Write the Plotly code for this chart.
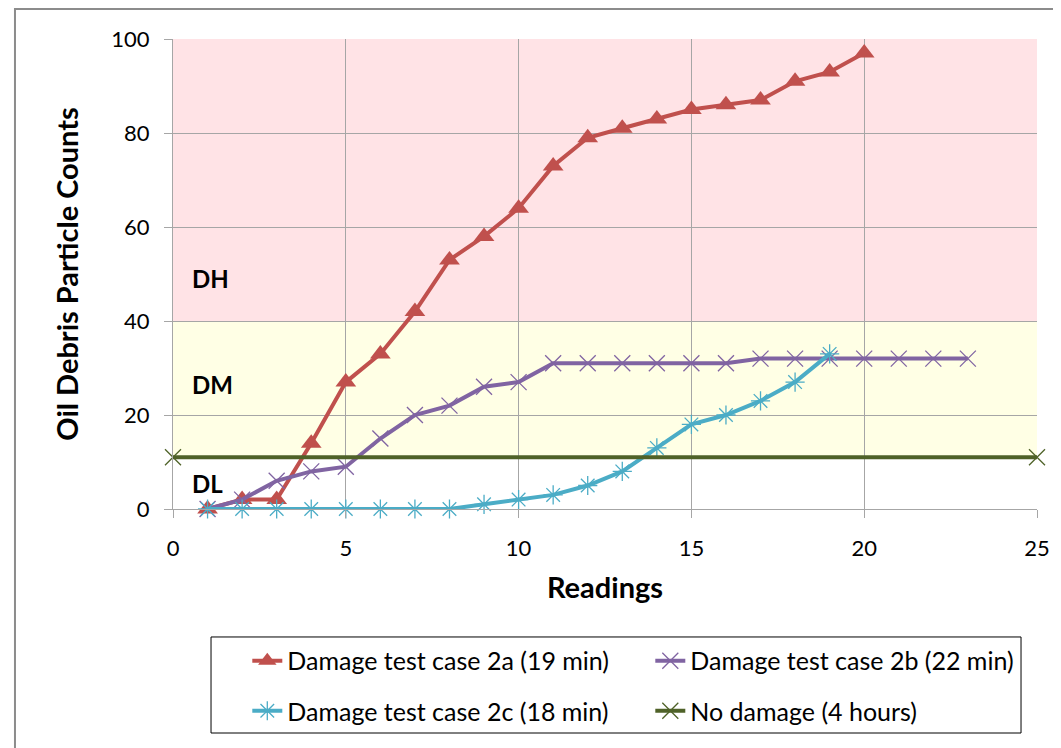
import plotly.graph_objects as go

# readings (x) per series
readings_2a = list(range(1, 21))
readings_2b = list(range(1, 24))
readings_2c = list(range(1, 20))
readings_none = [0, 25]

# particle counts
counts_2a = [0, 2, 2, 14, 27, 33, 42, 53, 58, 64, 73, 79, 81, 83, 85, 86, 87, 91, 93, 97]
counts_2b = [0, 2, 6, 8, 9, 15, 20, 22, 26, 27, 31, 31, 31, 31, 31, 31, 32, 32, 32, 32, 32, 32, 32]
counts_2c = [0, 0, 0, 0, 0, 0, 0, 0, 1, 2, 3, 5, 8, 13, 18, 20, 23, 27, 33]
counts_none = [11, 11]

names = ["Damage test case 2a (19 min)", "Damage test case 2b (22 min)",
         "Damage test case 2c (18 min)", "No damage (4 hours)"]

# damage zones
zone_low = 11
zone_mid = 40
zone_top = 100
zone_labels = ["DL", "DM", "DH"]
zone_label_y = [5.5, 26.5, 49]

FONT = "Lato, Liberation Sans, Arial"

fig = go.Figure()

fig.add_trace(go.Scatter(
    x=readings_2a, y=counts_2a, name=names[0], mode="lines+markers",
    line=dict(color="#C0504D", width=4),
    marker=dict(symbol="triangle-up", size=18, color="#C0504D"),
    cliponaxis=False, legend="legend",
))
fig.add_trace(go.Scatter(
    x=readings_2b, y=counts_2b, name=names[1], mode="lines+markers",
    line=dict(color="#8064A2", width=4),
    marker=dict(symbol="x-thin-open", size=16, line=dict(color="#B7A6CB", width=1.3)),
    cliponaxis=False, legend="legend",
))
fig.add_trace(go.Scatter(
    x=readings_2c, y=counts_2c, name=names[2], mode="lines+markers",
    line=dict(color="#4BACC6", width=4),
    marker=dict(symbol="asterisk-open", size=16, line=dict(color="#5FC0D8", width=1.3)),
    cliponaxis=False, legend="legend2",
))
fig.add_trace(go.Scatter(
    x=readings_none, y=counts_none, name=names[3], mode="lines+markers",
    line=dict(color="#4F6228", width=4),
    marker=dict(symbol="x-thin-open", size=16, line=dict(color="#8A9A66", width=1.3)),
    cliponaxis=False, legend="legend2",
))

# zone shading
fig.add_hrect(y0=zone_low, y1=zone_mid, fillcolor="#FFFFE5", line_width=0, layer="below")
fig.add_hrect(y0=zone_mid, y1=zone_top, fillcolor="#FFE3E6", line_width=0, layer="below")

for lab, yy in zip(zone_labels, zone_label_y):
    fig.add_annotation(x=0.5, y=yy, text="<b>%s</b>" % lab, showarrow=False,
                       xanchor="left", font=dict(size=24, color="#000", family=FONT))

# outer chart frame and legend box
fig.add_shape(type="rect", xref="paper", yref="paper", x0=-0.1829, x1=1.0208,
              y0=-0.53, y1=1.064, line=dict(color="#8C8C8C", width=2), layer="below")
fig.add_shape(type="rect", xref="paper", yref="paper", x0=0.044, x1=0.9815,
              y0=-0.4766, y1=-0.2723, line=dict(color="#000", width=1))

leg_common = dict(orientation="h", xanchor="left", yanchor="middle",
                  font=dict(size=25, family=FONT, color="#000"),
                  bgcolor="rgba(0,0,0,0)", entrywidth=358, itemwidth=30,
                  tracegroupgap=0)
# page body has an 8px margin, so the figure is sized and offset to compensate
fig.update_layout(
    width=1053, height=740,
    margin=dict(l=165, r=24, t=31, b=239, autoexpand=False),
    paper_bgcolor="white", plot_bgcolor="white",
    font=dict(family=FONT, color="#000"),
    legend=dict(x=0.086, y=-0.3234, **leg_common),
    legend2=dict(x=0.086, y=-0.4298, **leg_common),
    xaxis=dict(range=[0, 25], dtick=5, showgrid=True, gridcolor="#A6A6A6", gridwidth=1,
               showline=True, linecolor="#A6A6A6", ticks="outside", ticklen=8,
               tickcolor="#A6A6A6", zeroline=False, ticklabelstandoff=12,
               tickfont=dict(size=22, family=FONT, color="#000"),
               title=dict(text="<b>Readings</b>", font=dict(size=29, family=FONT), standoff=17)),
    yaxis=dict(range=[0, 100], dtick=20, showgrid=True, gridcolor="#A6A6A6", gridwidth=1,
               showline=True, linecolor="#A6A6A6", ticks="outside", ticklen=8,
               tickcolor="#A6A6A6", zeroline=False, ticklabelstandoff=10,
               tickfont=dict(size=22, family=FONT, color="#000"),
               title=dict(text="<b>Oil Debris Particle Counts</b>", font=dict(size=29, family=FONT),
                          standoff=24)),
)

fig.write_html("out.html")
